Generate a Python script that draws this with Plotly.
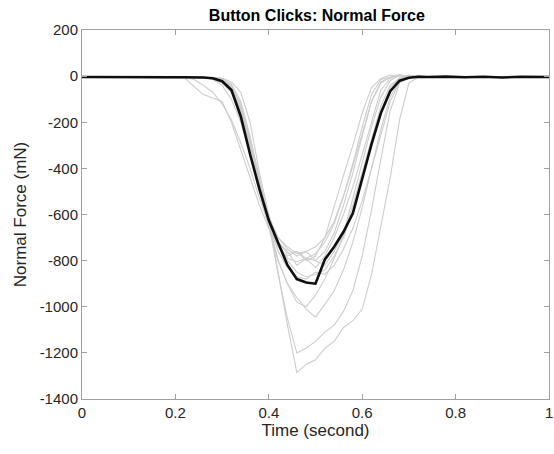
import plotly.graph_objects as go

# Time samples (seconds)
time_s = [0.00, 0.05, 0.10, 0.15, 0.20, 0.22, 0.24, 0.26, 0.28, 0.30,
          0.32, 0.34, 0.36, 0.38, 0.40, 0.42, 0.44, 0.46, 0.48, 0.50,
          0.52, 0.54, 0.56, 0.58, 0.60, 0.62, 0.64, 0.66, 0.68, 0.70,
          0.72, 0.74, 0.78, 0.82, 0.86, 0.90, 0.94, 0.98, 1.00]

# Individual clicks (mN)
click_01 = [-5, -5, -5, -5, -5, -8, -45, -80, -95, -110,
            -200, -320, -430, -560, -660, -740, -790, -805, -790, -800,
            -760, -680, -560, -420, -260, -110, -25, -5, 4, -3,
            -5, -4, -5, -4, -5, -4, -5, -4, -5]
click_02 = [-5, -5, -5, -5, -5, -5, -15, -40, -70, -120,
            -190, -290, -400, -530, -640, -720, -770, -760, -790, -770,
            -720, -640, -520, -380, -220, -80, -15, -3, 6, -2,
            -4, -5, -4, -5, -4, -5, -4, -5, -4]
click_03 = [-5, -5, -5, -5, -5, -5, -5, -5, -12, -30,
            -70, -150, -270, -440, -620, -850, -1080, -1285, -1250, -1230,
            -1180, -1150, -1090, -1060, -1010, -860, -650, -440, -190, -30,
            -5, -4, -5, -4, -5, -4, -5, -4, -5]
click_04 = [-5, -5, -5, -5, -5, -5, -5, -5, -10, -25,
            -60, -140, -280, -450, -640, -860, -1050, -1200, -1180, -1150,
            -1110, -1080, -1020, -930, -780, -580, -360, -150, -30, -5,
            -4, -5, -4, -5, -4, -5, -4, -5, -4]
click_05 = [-5, -5, -5, -5, -5, -5, -5, -5, -8, -25,
            -70, -160, -300, -470, -640, -800, -900, -960, -1010, -1045,
            -990, -930, -840, -720, -570, -400, -230, -90, -20, -5,
            -4, -5, -4, -5, -4, -5, -4, -5, -4]
click_06 = [-5, -5, -5, -5, -5, -5, -5, -6, -15, -40,
            -100, -200, -340, -500, -660, -800, -900, -980, -1000, -950,
            -880, -790, -690, -560, -420, -270, -130, -40, -8, 3,
            -4, -5, -4, -5, -4, -5, -4, -5, -4]
click_07 = [-5, -5, -5, -5, -5, -5, -5, -5, -7, -20,
            -55, -150, -320, -500, -650, -740, -780, -760, -800, -780,
            -700, -560, -430, -300, -160, -50, -10, 5, -3, -5,
            -4, -5, -4, -5, -4, -5, -4, -5, -4]
click_08 = [-5, -5, -5, -5, -5, -5, -5, -5, -6, -15,
            -45, -130, -290, -470, -630, -720, -760, -820, -790, -830,
            -780, -700, -600, -480, -340, -190, -60, -10, 6, -3,
            -5, -4, -5, -4, -5, -4, -5, -4, -5]
click_09 = [-5, -5, -5, -5, -5, -5, -5, -5, -5, -8,
            -25, -70, -200, -420, -600, -730, -800, -850, -870, -860,
            -840, -780, -700, -580, -440, -300, -160, -50, -10, 5,
            -3, -5, -4, -5, -4, -5, -4, -5, -4]
click_10 = [-5, -5, -5, -5, -5, -5, -5, -5, -6, -10,
            -35, -110, -260, -450, -610, -700, -750, -780, -760, -800,
            -820, -760, -680, -530, -380, -220, -90, -20, 5, -4,
            -5, -4, -5, -4, -5, -4, -5, -4, -5]
click_11 = [-5, -5, -5, -5, -5, -5, -5, -5, -6, -12,
            -40, -120, -270, -460, -640, -760, -830, -870, -880, -850,
            -860, -820, -750, -660, -540, -400, -250, -110, -25, -5,
            4, -4, -5, -4, -5, -4, -5, -4, -5]
click_12 = [-5, -5, -5, -5, -5, -5, -5, -5, -6, -18,
            -50, -140, -300, -480, -620, -700, -740, -770, -760, -740,
            -700, -630, -520, -390, -250, -110, -30, -5, 3, -4,
            -5, -4, -5, -4, -5, -4, -5, -4, -5]

# Mean click (black)
mean_click = [-4, -5, -4, -5, -5, -5, -5, -6, -9, -22,
              -60, -175, -340, -490, -625, -720, -820, -880, -895, -900,
              -795, -740, -675, -595, -440, -295, -160, -65, -20, -7,
              -3, -4, -2, -5, -3, -6, -3, -5, -4]

clicks = [click_01, click_02, click_03, click_04, click_05, click_06,
          click_07, click_08, click_09, click_10, click_11, click_12]

x_ticks = [0, 0.2, 0.4, 0.6, 0.8, 1]
x_tick_text = ["0", "0.2", "0.4", "0.6", "0.8", ""]
x_last_label = "1"
y_ticks = [200, 0, -200, -400, -600, -800, -1000, -1200, -1400]
y_tick_text = ["200", "0", "-200", "-400", "-600", "-800", "-1000", "-1200", "-1400"]

fig = go.Figure()
for c in clicks:
    fig.add_trace(go.Scatter(x=time_s, y=c, mode="lines",
                             line=dict(color="rgb(205,205,205)", width=1.1),
                             showlegend=False, hoverinfo="skip"))
fig.add_trace(go.Scatter(x=time_s, y=mean_click, mode="lines",
                         line=dict(color="rgb(15,15,15)", width=2.6),
                         showlegend=False))

axis_col = "rgb(160,160,160)"
font_family = "Liberation Sans, Arial, Helvetica, sans-serif"

fig.update_layout(
    width=554, height=454,
    margin=dict(l=82, r=5, t=30, b=55),
    paper_bgcolor="white", plot_bgcolor="white",
    font=dict(family=font_family, color="rgb(38,38,38)", size=15),
    title=dict(text="<b>Button Clicks: Normal Force</b>", x=0.572, xanchor="center",
               y=0.967, yanchor="middle", font=dict(size=16, color="rgb(0,0,0)")),
    xaxis=dict(range=[0, 1], tickvals=x_ticks, ticktext=x_tick_text,
               showgrid=False, zeroline=False, showline=True, linecolor=axis_col,
               linewidth=1, mirror="ticks", ticks="inside", ticklen=5,
               tickcolor=axis_col, tickfont=dict(size=15), automargin=False,
               title=dict(text="Time (second)", font=dict(size=17), standoff=2)),
    yaxis=dict(range=[-1400, 200], tickvals=y_ticks, ticktext=y_tick_text,
               showgrid=False, zeroline=False, showline=True, linecolor=axis_col,
               linewidth=1, mirror="ticks", ticks="inside", ticklen=5,
               tickcolor=axis_col, tickfont=dict(size=15), automargin=False,
               title=dict(text="Normal Force (mN)", font=dict(size=17), standoff=8)),
)
fig.add_annotation(x=1, xref="x", y=0, yref="paper", text=x_last_label,
                   showarrow=False, xanchor="center", yanchor="top", yshift=-3,
                   font=dict(size=15, color="rgb(38,38,38)"))

# Remove the default page margin so the 554x454 figure fills the window exactly.
fig.write_html("out.html",
               config={"displayModeBar": False},
               post_script="document.body.style.margin='0';"
                           "document.body.style.overflow='hidden';")
